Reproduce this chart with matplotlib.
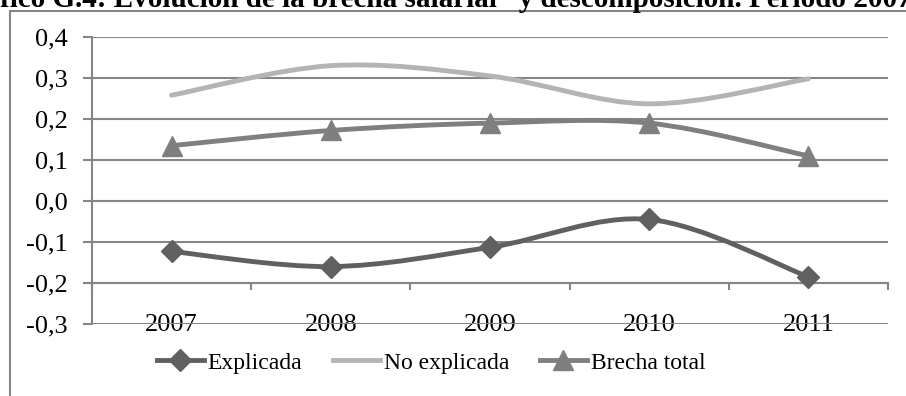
import matplotlib.pyplot as plt
import numpy as np
from matplotlib.path import Path
from matplotlib.patches import PathPatch, Rectangle
from matplotlib.lines import Line2D

years = ['2007', '2008', '2009', '2010', '2011']
explicada = [-0.123, -0.160, -0.113, -0.045, -0.185]
no_explicada = [0.258, 0.330, 0.305, 0.237, 0.298]
brecha_total = [0.135, 0.172, 0.190, 0.190, 0.110]

title = 'Gráfico G.4: Evolución de la brecha salarial* y descomposición. Período 2007-2011'

plt.rcParams['font.family'] = ['Liberation Serif', 'DejaVu Serif']
grid_col = '#868686'
fs = 19


def smooth_path(xs, ys):
    # excel-like smoothed line: bezier segments with catmull-rom control points
    pts = np.column_stack([xs, ys]).astype(float)
    n = len(pts)
    verts = [pts[0]]
    codes = [Path.MOVETO]
    for i in range(n - 1):
        p0 = pts[i - 1] if i > 0 else pts[i]
        p1 = pts[i]
        p2 = pts[i + 1]
        p3 = pts[i + 2] if i + 2 < n else pts[i + 1]
        c1 = p1 + (p2 - p0) / 6.0
        c2 = p2 - (p3 - p1) / 6.0
        verts += [c1, c2, p2]
        codes += [Path.CURVE4] * 3
    return Path(verts, codes)


fig = plt.figure(figsize=(9.06, 3.96), dpi=100)
ax = fig.add_axes([92 / 906, 72 / 396, 796 / 906, 287 / 396])

x = np.arange(len(years))
series = [
    ('Explicada', explicada, '#606060', 'D', 11),
    ('No explicada', no_explicada, '#b4b4b4', None, 0),
    ('Brecha total', brecha_total, '#7f7f7f', '^', 14),
]
handles = []
for name, vals, col, mk, ms in series:
    ax.add_patch(PathPatch(smooth_path(x, vals), facecolor='none', edgecolor=col,
                           lw=3.5, capstyle='round', joinstyle='round', zorder=3))
    if mk:
        ax.plot(x, vals, linestyle='none', marker=mk, markersize=ms, color=col, zorder=4)
    handles.append(Line2D([], [], color=col, lw=3.5, marker=mk, markersize=ms))

ax.set_xlim(-0.5, 4.5)
ax.set_ylim(-0.3, 0.4)
yt = np.arange(-0.3, 0.41, 0.1)
ax.set_yticks(yt)
ax.set_yticklabels([f'{v:.1f}'.replace('.', ',').replace('-0,0', '0,0') for v in yt])
ax.yaxis.grid(True, color=grid_col, lw=1.5)
ax.set_axisbelow(True)
ax.tick_params(axis='y', length=6.5, width=1.5, color=grid_col, pad=11, labelsize=fs)

# category axis sits on -0.2
ax.spines['bottom'].set_position(('data', -0.2))
ax.spines['bottom'].set_color(grid_col)
ax.spines['bottom'].set_linewidth(1.5)
ax.set_xticks(np.arange(-0.5, 5, 1.0))
ax.set_xticklabels([])
ax.tick_params(axis='x', which='major', length=5, width=1.5, color=grid_col)
ax.set_xticks(x, minor=True)
ax.set_xticklabels(years, minor=True)
ax.tick_params(axis='x', which='minor', length=0, pad=22, labelsize=fs)

ax.spines['left'].set_color(grid_col)
ax.spines['left'].set_linewidth(1.5)
ax.spines['top'].set_visible(False)
ax.spines['right'].set_visible(False)

fig.legend(handles, [s[0] for s in series], loc='center', bbox_to_anchor=(431 / 906, 1 - 363 / 396),
           ncol=3, frameon=False, fontsize=17, handlelength=2.0, handletextpad=0.15,
           columnspacing=1.3)

# outer frame and cut-off title
fig.patches.append(Rectangle((10 / 906, -0.1), 1.2, 1 - 11 / 396 + 0.1, transform=fig.transFigure,
                             facecolor='none', edgecolor=grid_col, lw=1.5))
fig.text(-50 / 906, 1 - 7 / 396, title, fontsize=21, fontweight='bold', va='baseline', ha='left')

fig.savefig('out.png', dpi=100)
